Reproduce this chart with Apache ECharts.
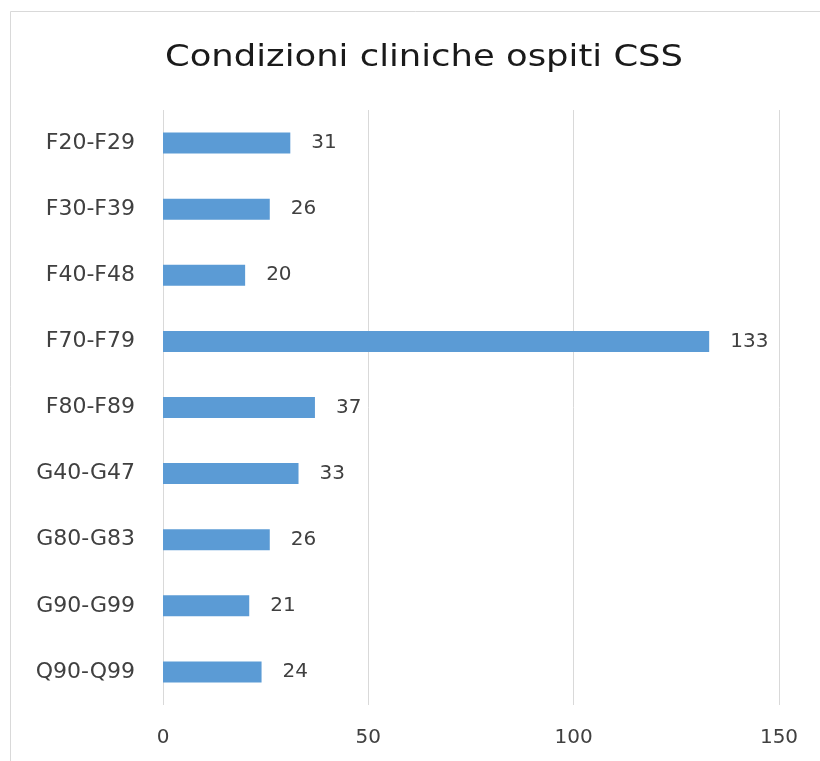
<!DOCTYPE html>
<html>
<head>
<meta charset="utf-8">
<script src="https://cdn.jsdelivr.net/npm/echarts@6/dist/echarts.min.js"></script>
<style>
  html, body { margin: 0; padding: 0; background: #ffffff; }
  #chart { width: 820px; height: 761px; }
</style>
</head>
<body>
<div id="chart"></div>
<script>
// ICD code groups (top to bottom) and number of guests in each
const categories = ['F20-F29', 'F30-F39', 'F40-F48', 'F70-F79', 'F80-F89', 'G40-G47', 'G80-G83', 'G90-G99', 'Q90-Q99'];
const guests = [31, 26, 20, 133, 37, 33, 26, 21, 24];
const xTicks = [0, 50, 100, 150];
const chartTitle = 'Condizioni cliniche ospiti CSS';

const FONT = '"DejaVu Sans", "Noto Sans", sans-serif';

const chart = echarts.init(document.getElementById('chart'), null, { renderer: 'canvas' });

chart.setOption({
  backgroundColor: '#ffffff',
  animation: false,
  graphic: [
    {
      // outer chart-area frame
      type: 'rect',
      shape: { x: 10.5, y: 11.5, width: 830, height: 780 },
      style: { fill: 'none', stroke: '#d9d9d9', lineWidth: 1 },
      silent: true,
      z: -1
    },
    {
      // title, slightly widened
      type: 'text',
      x: 424,
      y: 58,
      scaleX: 1.18,
      style: {
        text: chartTitle,
        fontFamily: FONT,
        fontSize: 30,
        fill: '#1a1a1a',
        align: 'center',
        verticalAlign: 'middle'
      },
      silent: true
    }
  ],
  grid: { left: 163, right: 41, top: 110, bottom: 56, containLabel: false },
  xAxis: {
    type: 'value',
    min: xTicks[0],
    max: xTicks[xTicks.length - 1],
    interval: xTicks[1] - xTicks[0],
    axisLine: { show: false },
    axisTick: { show: false },
    splitLine: { show: true, lineStyle: { color: '#d9d9d9', width: 1 } },
    axisLabel: { margin: 23, fontFamily: FONT, fontSize: 20, color: '#404040' }
  },
  yAxis: {
    type: 'category',
    data: categories,
    inverse: true,
    axisLine: { show: false },
    axisTick: { show: false },
    axisLabel: { margin: 28, fontFamily: FONT, fontSize: 22, color: '#404040' }
  },
  series: [{
    type: 'bar',
    data: guests,
    barWidth: 21,
    itemStyle: { color: '#5b9bd5' },
    label: {
      show: true,
      position: 'right',
      distance: 21,
      fontFamily: FONT,
      fontSize: 20,
      color: '#404040'
    }
  }]
});
</script>
</body>
</html>
